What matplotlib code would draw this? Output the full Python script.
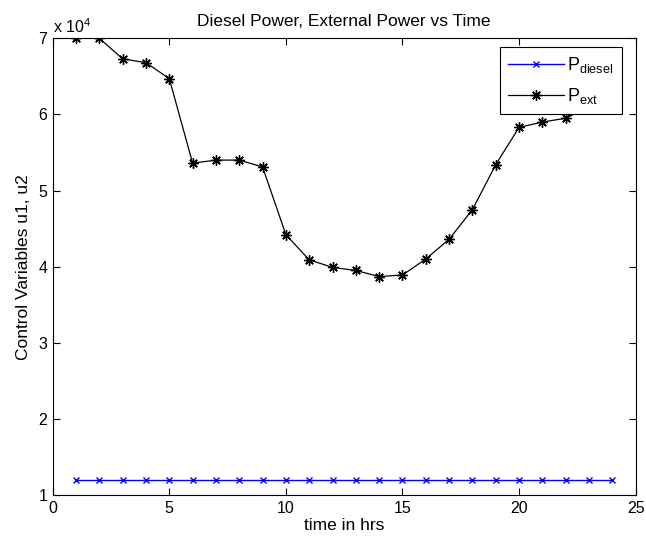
import matplotlib
matplotlib.use("Agg")
import matplotlib.pyplot as plt
from matplotlib.ticker import FuncFormatter

hours = list(range(1, 25))
p_diesel = [12000] * 24
p_ext = [70000, 70000, 67300, 66800, 64700, 53600, 54000, 54000, 53100, 44200,
         40900, 39900, 39500, 38700, 38900, 41000, 43600, 47500, 53400, 58300,
         59000, 59500, 61000, 62000]

plt.rcParams['font.family'] = ['Liberation Sans', 'DejaVu Sans']
plt.rcParams['mathtext.default'] = 'regular'

fig = plt.figure(figsize=(6.46, 5.42), dpi=100)
ax = fig.add_axes([0.0816, 0.0867, 0.9024, 0.8426])

ax.plot(hours, p_diesel, color='blue', marker='x', markersize=4,
        markeredgewidth=1.0, linewidth=1.0, label='P$_{diesel}$')
ax.plot(hours, p_ext, color='black', marker=(8, 2, 0), markersize=7.5,
        markeredgewidth=1.0, linewidth=0.9, label='P$_{ext}$')

ax.set_xlim(0, 25)
ax.set_ylim(10000, 70000)
ax.set_xticks([0, 5, 10, 15, 20, 25])
ax.set_yticks([10000, 20000, 30000, 40000, 50000, 60000, 70000])
ax.yaxis.set_major_formatter(FuncFormatter(lambda v, p: f"{v / 1e4:g}"))
ax.tick_params(direction='in', top=True, right=True, length=5, width=0.8,
               labelsize=11.5, pad=4)
for s in ax.spines.values():
    s.set_linewidth(0.8)

ax.text(0.0, 1.005, r'x 10$^4$', transform=ax.transAxes, ha='left',
        va='bottom', fontsize=11.5)

ax.set_title('Diesel Power, External Power vs Time', fontsize=12.5, pad=9)
ax.set_xlabel('time in hrs', fontsize=12.5, labelpad=2)
ax.set_ylabel('Control Variables u1, u2', fontsize=12.5, labelpad=5)

leg = ax.legend(loc='upper right', fontsize=13, frameon=True, fancybox=False,
                edgecolor='black', framealpha=1.0, borderpad=0.45,
                handlelength=3.1, labelspacing=0.6, handletextpad=0.2,
                borderaxespad=0.0, bbox_to_anchor=(0.9765, 0.981))
leg.get_frame().set_linewidth(0.8)
leg.set_zorder(10)

fig.savefig('out.png', dpi=100)
